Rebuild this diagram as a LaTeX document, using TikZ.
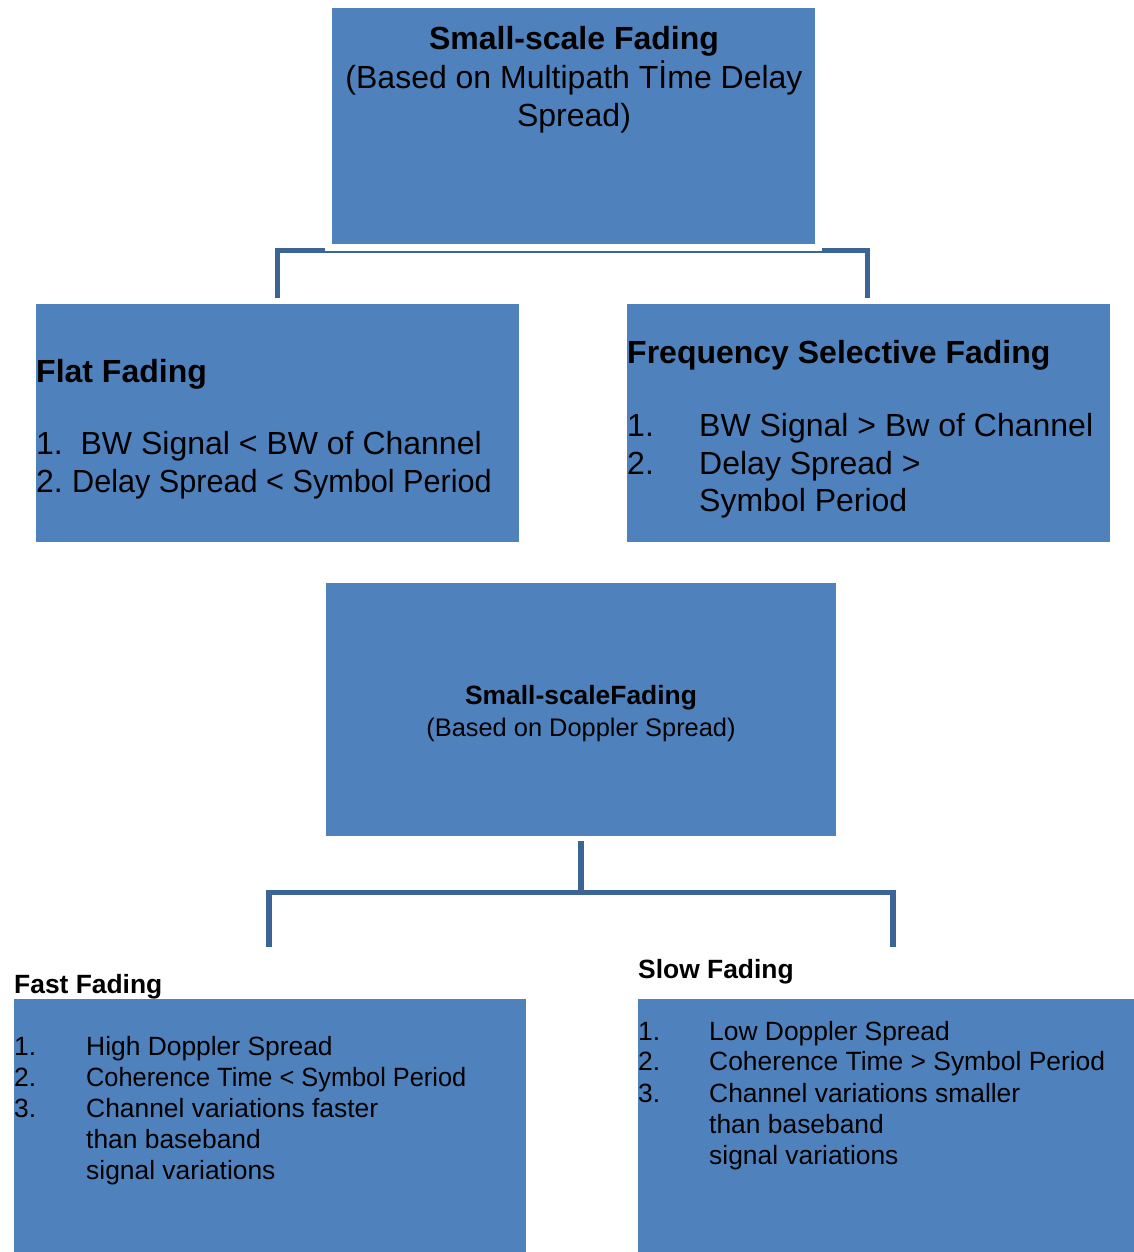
\documentclass[tikz,border=0pt]{standalone}
\usepackage{fontspec}
\usepackage{graphicx}
\setmainfont{Liberation Sans}
\definecolor{boxblue}{RGB}{79,129,189}
\definecolor{linkblue}{RGB}{60,100,150}
\pgfdeclarelayer{back}
\pgfdeclarelayer{conn}
\pgfsetlayers{back,conn,main}
\begin{document}
\begin{tikzpicture}[x=1pt,y=-1pt,
  fbox/.style={fill=boxblue,draw=none,inner sep=0pt,outer sep=0pt},
  conn/.style={draw=linkblue,line width=5.3pt},
  big/.style={font=\fontsize{32}{38}\selectfont,inner sep=0pt},
  bigb/.style={font=\fontsize{32}{38}\selectfont\bfseries,inner sep=0pt},
  small/.style={font=\fontsize{26.4}{31}\selectfont,inner sep=0pt},
  smallb/.style={font=\fontsize{26.4}{31}\selectfont\bfseries,inner sep=0pt}]
\begin{pgfonlayer}{back}
\fill[white] (0,0) rectangle (1134,1252);
\end{pgfonlayer}
\useasboundingbox (0,0) rectangle (1134,1252);
% boxes
\node[fbox,draw=white,line width=7pt,minimum width=490pt,minimum height=243pt,anchor=north west] (top) at (328.5,4.5) {};
\node[fbox,minimum width=483pt,minimum height=238pt,anchor=north west] (flat) at (36,304) {};
\node[fbox,minimum width=483pt,minimum height=238pt,anchor=north west] (freq) at (627,304) {};
\node[fbox,minimum width=510pt,minimum height=252.5pt,anchor=north west] (mid) at (326,583) {};
\node[fbox,minimum width=512pt,minimum height=253pt,anchor=north west] (fast) at (14,999) {};
\node[fbox,minimum width=496pt,minimum height=253pt,anchor=north west] (slow) at (638,999) {};
% top text
\node[bigb,anchor=base] (t1) at (574,50) {Small-scale Fading};
\node[big,anchor=base] (t2) at (574,89) {(Based on Multipath Tİme Delay};
\node[big,anchor=base] (t3) at (574,127) {Spread)};
% flat text
\node[bigb,anchor=base west] (f0) at (36,382) {Flat Fading};
\node[big,anchor=base west] (f1) at (36,454) {1.\ \ BW Signal < BW of Channel};
\node[big,anchor=base west] (f2n) at (36,492) {2.};
\node[big,anchor=base west] (f2) at (72,492) {\scalebox{0.957}[1]{Delay Spread < Symbol Period}};
% freq text
\node[bigb,anchor=base west] (q0) at (627,363) {Frequency Selective Fading};
\node[big,anchor=base west] (q1n) at (627,436) {1.};
\node[big,anchor=base west] (q1) at (699,436) {BW Signal > Bw of Channel};
\node[big,anchor=base west] (q2n) at (627,474) {2.};
\node[big,anchor=base west] (q2) at (699,474) {Delay Spread >};
\node[big,anchor=base west] (q3) at (699,511) {Symbol Period};
% mid text
\node[smallb,anchor=base] (m1) at (581,704) {Small-scaleFading};
\node[inner sep=0pt,font=\fontsize{25.4}{30}\selectfont,anchor=base] (m2) at (581,736) {(Based on Doppler Spread)};
% fast
\node[smallb,anchor=base west] (a0) at (14,993) {Fast Fading};
\node[small,anchor=base west] (a1n) at (14,1055) {1.};
\node[small,anchor=base west] (a1) at (86,1055) {High Doppler Spread};
\node[small,anchor=base west] (a2n) at (14,1086) {2.};
\node[small,anchor=base west] (a2) at (86,1086) {\scalebox{0.96}[1]{Coherence Time < Symbol Period}};
\node[small,anchor=base west] (a3n) at (14,1117) {3.};
\node[small,anchor=base west] (a3) at (86,1117) {Channel variations faster};
\node[small,anchor=base west] (a4) at (86,1148) {than baseband};
\node[small,anchor=base west] (a5) at (86,1179) {signal variations};
% slow
\node[smallb,anchor=base west] (s0) at (638,978) {Slow Fading};
\node[small,anchor=base west] (s1n) at (638,1040) {1.};
\node[small,anchor=base west] (s1) at (709,1040) {Low Doppler Spread};
\node[small,anchor=base west] (s2n) at (638,1070) {2.};
\node[small,anchor=base west] (s2) at (709,1070) {Coherence Time > Symbol Period};
\node[small,anchor=base west] (s3n) at (638,1102) {3.};
\node[small,anchor=base west] (s3) at (709,1102) {Channel variations smaller};
\node[small,anchor=base west] (s4) at (709,1133) {than baseband};
\node[small,anchor=base west] (s5) at (709,1164) {signal variations};
% connectors
\coordinate (tl) at (277.7,298);
\coordinate (tr) at (867.5,298);
\coordinate (tj) at (574,250.5);
\coordinate (jl) at (269,946.5);
\coordinate (jr) at (893,946.5);
\coordinate (jm) at (581,892.5);
\begin{pgfonlayer}{conn}
\draw[conn] (tl) |- (tj) -| (tr);
\draw[conn] ([yshift=-5.5pt]mid.south) -- (jm);
\draw[conn] (jl) |- (jm) -| (jr);
\end{pgfonlayer}
\end{tikzpicture}
\end{document}
